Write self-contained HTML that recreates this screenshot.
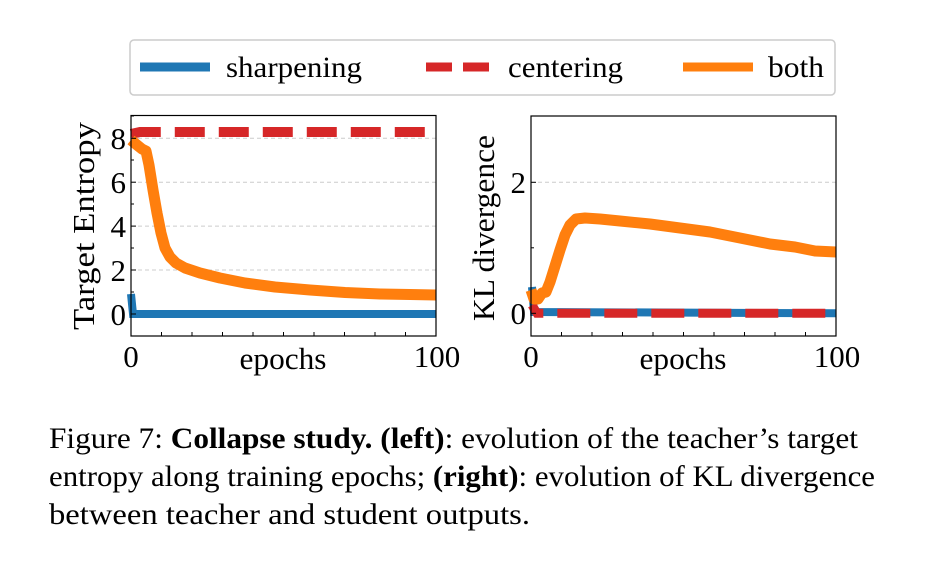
<!DOCTYPE html>
<html><head><style>
body{margin:0;background:#fff;}
svg text{font-family:"Liberation Serif",serif;}
</style></head><body>
<svg width="946" height="558" xmlns="http://www.w3.org/2000/svg">
<rect width="946" height="558" fill="#fff"/>
<!-- legend -->
<rect x="130" y="40" width="705" height="55" rx="4" fill="#fff" stroke="#ccc" stroke-width="1.5"/>
<line x1="140" y1="67" x2="210" y2="67" stroke="#1f77b4" stroke-width="9"/>
<text x="226" y="77" font-size="30" textLength="136" lengthAdjust="spacingAndGlyphs">sharpening</text>
<line x1="426" y1="67" x2="496" y2="67" stroke="#d62728" stroke-width="9" stroke-dasharray="26,11"/>
<text x="508" y="77" font-size="30" textLength="115" lengthAdjust="spacingAndGlyphs">centering</text>
<line x1="683" y1="67" x2="753" y2="67" stroke="#ff7f0e" stroke-width="9"/>
<text x="768" y="77" font-size="30" textLength="56" lengthAdjust="spacingAndGlyphs">both</text>

<!-- left plot -->
<g>
<line x1="131" y1="138.3" x2="436" y2="138.3" stroke="#ccc" stroke-dasharray="4,3"/>
<line x1="131" y1="182.2" x2="436" y2="182.2" stroke="#ccc" stroke-dasharray="4,3"/>
<line x1="131" y1="226.1" x2="436" y2="226.1" stroke="#ccc" stroke-dasharray="4,3"/>
<line x1="131" y1="270" x2="436" y2="270" stroke="#ccc" stroke-dasharray="4,3"/>
<polyline fill="none" stroke="#1f77b4" stroke-width="8" points="131,294 133,314 436,314"/>
<polyline fill="none" stroke="#d62728" stroke-width="10" stroke-dasharray="30,14" points="131,134 140,132 436,132"/>
<polyline fill="none" stroke="#ff7f0e" stroke-width="11" stroke-linejoin="round" points="131,140 137,145 142,149 146,151 149,165 153,190 157,213 161,233 165,248 170,257 176,263 185,268 200,273 220,278 245,283 275,287 310,290 345,292.5 380,294 410,294.5 436,295"/>
<rect x="131" y="115.5" width="305" height="220.5" fill="none" stroke="#000" stroke-width="1.2"/>
<g stroke="#000" stroke-width="1">
<line x1="131" y1="314" x2="136" y2="314"/><line x1="131" y1="270" x2="136" y2="270"/><line x1="131" y1="226.1" x2="136" y2="226.1"/><line x1="131" y1="182.2" x2="136" y2="182.2"/><line x1="131" y1="138.3" x2="136" y2="138.3"/>
<line x1="131" y1="292" x2="134" y2="292"/><line x1="131" y1="248" x2="134" y2="248"/><line x1="131" y1="204" x2="134" y2="204"/><line x1="131" y1="160" x2="134" y2="160"/><line x1="131" y1="116" x2="134" y2="116"/>
<line x1="161.5" y1="336" x2="161.5" y2="332"/><line x1="192" y1="336" x2="192" y2="332"/><line x1="222.5" y1="336" x2="222.5" y2="332"/><line x1="253" y1="336" x2="253" y2="332"/><line x1="283.5" y1="336" x2="283.5" y2="332"/><line x1="314" y1="336" x2="314" y2="332"/><line x1="344.5" y1="336" x2="344.5" y2="332"/><line x1="375" y1="336" x2="375" y2="332"/><line x1="405.5" y1="336" x2="405.5" y2="332"/>
</g>
<g font-size="31" text-anchor="end">
<text x="126" y="325">0</text><text x="126" y="281">2</text><text x="126" y="237">4</text><text x="126" y="193">6</text><text x="126" y="149">8</text>
</g>
<text x="131" y="367" font-size="31" text-anchor="middle">0</text>
<text x="437" y="367" font-size="31" text-anchor="middle">100</text>
<text x="283" y="369" font-size="31" text-anchor="middle" textLength="87" lengthAdjust="spacingAndGlyphs">epochs</text>
<text transform="translate(94,226) rotate(-90)" font-size="31" text-anchor="middle" textLength="208" lengthAdjust="spacingAndGlyphs">Target Entropy</text>
</g>

<!-- right plot -->
<g>
<line x1="531" y1="182.3" x2="836" y2="182.3" stroke="#ccc" stroke-dasharray="4,3"/>
<polyline fill="none" stroke="#1f77b4" stroke-width="8" points="532,287 534,312 836,313.3"/>
<polyline fill="none" stroke="#d62728" stroke-width="9" stroke-dasharray="33,14" stroke-dashoffset="-30" points="532,305 537,313.3 836,313.3"/>
<polyline fill="none" stroke="#ff7f0e" stroke-width="11" stroke-linejoin="round" points="531,290 534,299 538,299 542,293 546,292 550,282 555,266 560,250 565,235 570,225 576,219 585,218 600,219 620,221 650,224 680,228 710,232 740,238 770,244 795,247 815,251 836,252"/>
<rect x="531" y="116" width="305" height="220" fill="none" stroke="#000" stroke-width="1.2"/>
<g stroke="#000" stroke-width="1">
<line x1="531" y1="313.3" x2="536" y2="313.3"/><line x1="531" y1="182.3" x2="536" y2="182.3"/><line x1="531" y1="247.8" x2="534" y2="247.8"/>
<line x1="561.5" y1="336" x2="561.5" y2="332"/><line x1="592" y1="336" x2="592" y2="332"/><line x1="622.5" y1="336" x2="622.5" y2="332"/><line x1="653" y1="336" x2="653" y2="332"/><line x1="683.5" y1="336" x2="683.5" y2="332"/><line x1="714" y1="336" x2="714" y2="332"/><line x1="744.5" y1="336" x2="744.5" y2="332"/><line x1="775" y1="336" x2="775" y2="332"/><line x1="805.5" y1="336" x2="805.5" y2="332"/>
</g>
<g font-size="31" text-anchor="end">
<text x="526" y="324">0</text><text x="526" y="193">2</text>
</g>
<text x="531" y="367" font-size="31" text-anchor="middle">0</text>
<text x="837" y="367" font-size="31" text-anchor="middle">100</text>
<text x="683" y="369" font-size="31" text-anchor="middle" textLength="87" lengthAdjust="spacingAndGlyphs">epochs</text>
<text transform="translate(494,228) rotate(-90)" font-size="31" text-anchor="middle" textLength="186" lengthAdjust="spacingAndGlyphs">KL divergence</text>
</g>

<!-- caption -->
<g font-size="30">
<text x="49" y="448" textLength="809" lengthAdjust="spacingAndGlyphs">Figure 7: <tspan font-weight="bold">Collapse study. (left)</tspan>: evolution of the teacher’s target</text>
<text x="49" y="486" textLength="826" lengthAdjust="spacingAndGlyphs">entropy along training epochs; <tspan font-weight="bold">(right)</tspan>: evolution of KL divergence</text>
<text x="49" y="524" textLength="481" lengthAdjust="spacingAndGlyphs">between teacher and student outputs.</text>
</g>
</svg>
</body></html>
